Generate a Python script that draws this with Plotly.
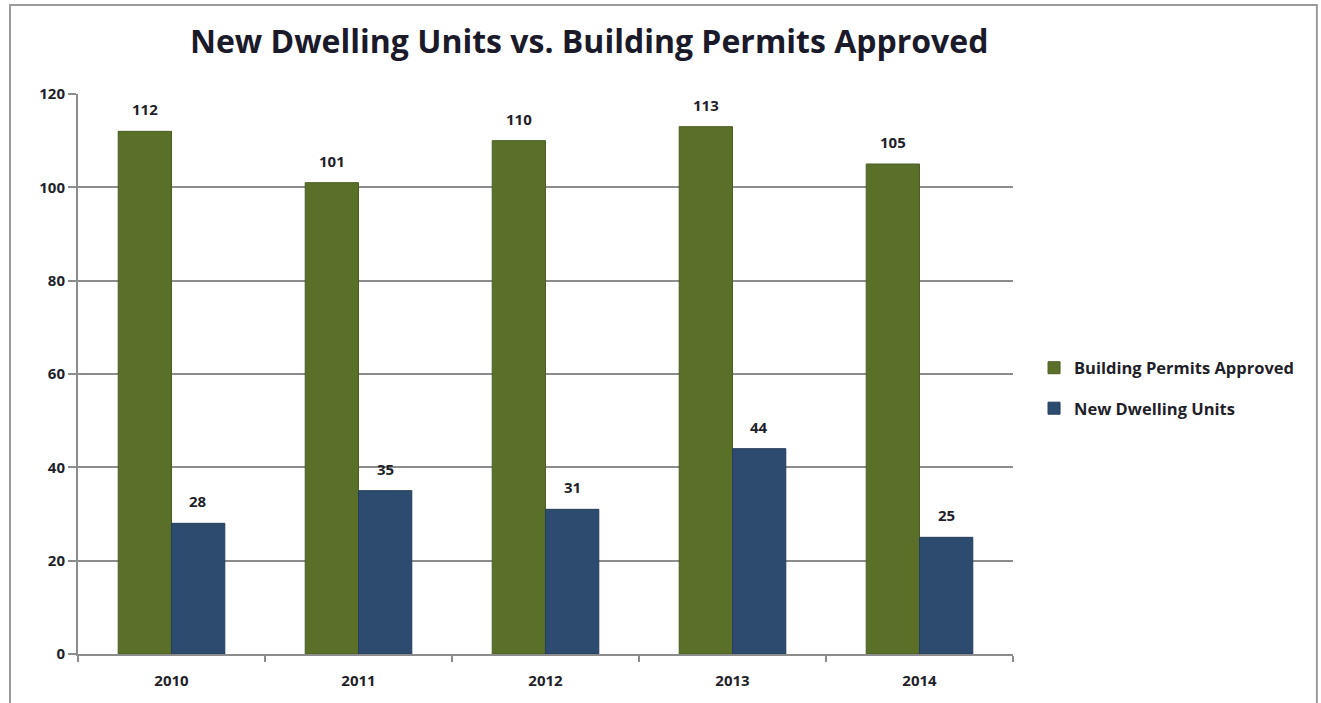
import plotly.graph_objects as go

years = ["2010", "2011", "2012", "2013", "2014"]
permits_approved = [112, 101, 110, 113, 105]
new_dwelling_units = [28, 35, 31, 44, 25]

series = [
    ("Building Permits Approved", permits_approved, "#5a7029", "#4b5f22"),
    ("New Dwelling Units", new_dwelling_units, "#2d4b6f", "#243d5b"),
]

text_color = "#1f1f2a"
grid_color = "#8c8c8c"
font_family = "'Open Sans', Lato, sans-serif"
label_font = dict(size=15, color=text_color, family=font_family)

plot_width_px = 1321 - 78 - 308
bargap = 0.43
bar_px = plot_width_px / len(years) * (1 - bargap) / len(series)

fig = go.Figure()
for i, (name, values, fill, edge) in enumerate(series):
    fig.add_trace(go.Bar(
        name=f"<b>{name}</b>",
        legendgroup=name,
        x=years, y=values,
        marker=dict(color=fill, line=dict(color=edge, width=1)),
    ))
    # value labels above each bar (category index as x position)
    shift = (i - (len(series) - 1) / 2) * bar_px
    for j, v in enumerate(values):
        fig.add_annotation(
            x=j, y=v, xref="x", yref="y",
            text=f"<b>{v}</b>", showarrow=False,
            xshift=shift, yshift=10, yanchor="bottom",
            font=label_font,
        )

fig.update_layout(
    width=1321, height=703,
    margin=dict(l=78, r=308, t=94, b=49, autoexpand=False),
    paper_bgcolor="white", plot_bgcolor="white",
    barmode="group", bargap=bargap, bargroupgap=0,
    font=dict(family=font_family, color=text_color, size=15),
    title=dict(
        text="<b>New Dwelling Units vs. Building Permits Approved</b>",
        x=0.446, xanchor="center", y=0.94, yanchor="middle",
        font=dict(size=32, color="#1a1a2a", family=font_family),
    ),
    legend=dict(
        x=1.0225, xanchor="left", y=0.475, yanchor="middle",
        font=dict(size=16.5, color=text_color, family=font_family),
        tracegroupgap=16,
        bgcolor="rgba(0,0,0,0)",
    ),
    showlegend=True,
)

fig.update_xaxes(
    type="category", range=[-0.5, len(years) - 0.5],
    tickvals=years, ticktext=[f"<b>{y}</b>" for y in years],
    showline=True, linecolor=grid_color, linewidth=2,
    ticks="outside", tickson="boundaries", ticklen=6, tickcolor=grid_color, tickwidth=2,
    ticklabelstandoff=12,
    tickfont=label_font,
    showgrid=False,
)
y_ticks = list(range(0, 121, 20))
fig.update_yaxes(
    range=[0, 120],
    tickvals=y_ticks, ticktext=[f"<b>{v}</b>" for v in y_ticks],
    showline=True, linecolor=grid_color, linewidth=2,
    ticks="outside", ticklen=8, tickcolor=grid_color, tickwidth=2,
    tickfont=label_font,
    showgrid=True, gridcolor=grid_color, gridwidth=2,
    zeroline=False,
)

# outer chart frame
fig.add_shape(type="rect", xref="paper", yref="paper",
              x0=-0.0727, x1=1.325, y0=-0.095, y1=1.159,
              line=dict(color="#9a9a9a", width=2), layer="below")

fig.write_html("out.html")
